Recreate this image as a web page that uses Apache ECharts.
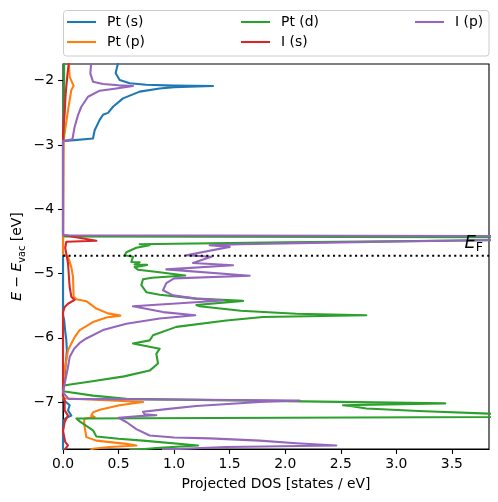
<!DOCTYPE html>
<html><head><meta charset="utf-8">
<script src="https://cdn.jsdelivr.net/npm/echarts@6/dist/echarts.min.js"></script>
<style>html,body{margin:0;padding:0;background:#fff}#c{width:498px;height:502px}</style>
</head><body><div id="c"></div>
<script>
// ---- data: [projected DOS, energy] ----
const seriesNames = ['Pt (s)', 'Pt (p)', 'Pt (d)', 'I (s)', 'I (p)'];
const colors = ['#1f77b4', '#ff7f0e', '#2ca02c', '#d62728', '#9467bd'];

const ptS = [[0.50,-1.70],[0.485,-1.80],[0.474,-1.885],[0.51,-1.99],[0.60,-2.04],[0.75,-2.062],[1.0,-2.076],[1.35,-2.083],[1.0,-2.10],[0.87,-2.12],[0.69,-2.17],[0.54,-2.275],[0.45,-2.405],[0.405,-2.50],[0.36,-2.53],[0.33,-2.61],[0.285,-2.77],[0.27,-2.90],[0.285,-2.913],[0,-2.94],[0,-5.65],[0.01,-5.72],[0.02,-5.9],[0.03,-6.04],[0.035,-6.2],[0.02,-6.5],[0.006,-6.77],[0,-6.85],[0,-6.96],[0.015,-6.98],[0.06,-7.05],[0.045,-7.13],[0.075,-7.21],[0.025,-7.25],[0,-7.3],[0,-7.75]];

const ptP = [[0.054,-1.70],[0.055,-1.80],[0.06,-1.94],[0.096,-2.08],[0.075,-2.145],[0.045,-2.46],[0.006,-2.92],[0,-2.95],[0,-4.70],[0.006,-4.72],[0.045,-4.74],[0.075,-4.90],[0.09,-5.05],[0.096,-5.36],[0.12,-5.40],[0.21,-5.43],[0.30,-5.545],[0.405,-5.62],[0.516,-5.655],[0.39,-5.685],[0.27,-5.755],[0.15,-5.88],[0.105,-5.99],[0.075,-6.09],[0.045,-6.195],[0.015,-6.5],[0,-6.75],[0,-6.94],[0.015,-6.95],[0.72,-7.0],[0.51,-7.05],[0.33,-7.12],[0.27,-7.16],[0.255,-7.21],[0.285,-7.23],[0.195,-7.26],[0.19,-7.30],[0.195,-7.39],[0.21,-7.545],[0.30,-7.60],[0.57,-7.65],[0.66,-7.675],[0.42,-7.70],[0.27,-7.725],[0.25,-7.75]];

const ptD = [[0.01,-1.70],[0.01,-2.5],[0.005,-2.9],[0,-2.94],[0,-4.40],[0.02,-4.425],[8,-4.445],[3.9,-4.48],[2.0,-4.515],[1.0,-4.537],[0.69,-4.545],[0.78,-4.56],[0.66,-4.60],[0.57,-4.67],[0.555,-4.715],[0.63,-4.74],[0.615,-4.82],[0.69,-4.825],[0.645,-4.86],[0.756,-4.865],[0.645,-4.90],[0.675,-4.94],[0.85,-4.975],[1.1,-5.03],[0.8,-5.065],[0.72,-5.09],[0.705,-5.18],[0.75,-5.29],[0.87,-5.33],[1.2,-5.39],[1.62,-5.425],[1.2,-5.49],[1.23,-5.51],[1.6,-5.58],[2.1,-5.625],[2.73,-5.65],[1.8,-5.675],[1.47,-5.73],[1.02,-5.83],[0.81,-5.96],[0.78,-6.04],[0.63,-6.09],[0.87,-6.17],[0.84,-6.25],[0.855,-6.40],[0.78,-6.51],[0.55,-6.60],[0.25,-6.68],[0.05,-6.73],[0,-6.745],[0,-6.83],[0.27,-6.90],[0.57,-6.95],[3.44,-7.02],[2.52,-7.05],[2.6,-7.065],[2.73,-7.10],[3.2,-7.14],[3.83,-7.18],[6,-7.22],[0.12,-7.255],[0.15,-7.30],[0.27,-7.44],[0.30,-7.535],[0.5,-7.57],[0.72,-7.60],[1.215,-7.675],[0.87,-7.71],[0.6,-7.75]];

const iS = [[0.054,-1.70],[0.04,-1.90],[0.024,-2.2],[0.015,-2.5],[0.005,-2.7],[0,-2.8],[0,-4.40],[0.01,-4.43],[0.30,-4.49],[0.03,-4.505],[0.02,-4.6],[0.03,-4.69],[0.045,-4.84],[0.06,-5.21],[0.075,-5.36],[0.105,-5.41],[0.045,-5.47],[0.015,-5.52],[0,-5.6],[0,-6.9],[0.015,-6.97],[0.03,-7.0],[0.015,-7.13],[0.045,-7.21],[0.015,-7.31],[0,-7.45],[0.02,-7.62],[0.045,-7.675],[0.024,-7.72],[0.02,-7.75]];

const iP = [[0.255,-1.70],[0.25,-1.80],[0.246,-1.885],[0.27,-2.015],[0.36,-2.05],[0.5,-2.072],[0.63,-2.083],[0.48,-2.12],[0.33,-2.155],[0.225,-2.25],[0.165,-2.405],[0.135,-2.535],[0.105,-2.715],[0.085,-2.91],[0,-2.94],[0,-4.40],[0.05,-4.405],[8,-4.43],[4,-4.475],[2.5,-4.515],[1.6,-4.545],[1.32,-4.56],[1.5,-4.585],[1.11,-4.715],[1.335,-4.74],[1.17,-4.835],[1.53,-4.87],[0.93,-4.935],[1.68,-5.035],[1.0,-5.075],[0.93,-5.15],[0.90,-5.26],[0.99,-5.34],[1.2,-5.39],[1.44,-5.42],[0.63,-5.51],[0.9,-5.6],[1.19,-5.65],[0.87,-5.70],[0.57,-5.78],[0.36,-5.88],[0.21,-6.01],[0.15,-6.08],[0.1,-6.17],[0.06,-6.30],[0.045,-6.455],[0.015,-6.71],[0,-6.85],[0.05,-6.95],[2.13,-6.975],[1.77,-7.0],[1.2,-7.06],[0.93,-7.11],[0.72,-7.15],[0.735,-7.19],[0.84,-7.205],[0.72,-7.215],[0.5,-7.245],[0.57,-7.31],[0.66,-7.42],[0.78,-7.52],[1.0,-7.55],[1.32,-7.565],[1.77,-7.60],[2.1,-7.64],[2.46,-7.675],[1.47,-7.70],[0.9,-7.74]];

const fermiLevel = -4.724;
const xTicks = [0, 0.5, 1, 1.5, 2, 2.5, 3, 3.5];
const yTicks = [-7, -6, -5, -4, -3, -2];
const xRange = [0, 3.834];
const yRange = [-7.73, -1.74];
// ---------------------------------------

const curves = [ptS, ptP, ptD, iS, iP];
const FF = 'DejaVu Sans';
const FS = 13.9;
const LW = 2.08;
const chart = echarts.init(document.getElementById('c'), null, {renderer: 'canvas'});

const legendCommon = {
  orient: 'vertical', icon: 'rect', itemWidth: 29, itemHeight: 2.1, itemGap: 6,
  selectedMode: false, top: 15, z: 20, padding: 0,
  textStyle: {fontSize: FS, color: '#000', fontFamily: FF, padding: [0, 0, 0, 6]}
};

const series = curves.map((d, i) => ({
  name: seriesNames[i], type: 'line', data: d, symbol: 'none', showSymbol: false,
  clip: true, animation: false,
  lineStyle: {width: LW, color: colors[i], join: 'round', cap: 'round'}, itemStyle: {color: colors[i]}
}));
series.push({
  type: 'line', data: [[xRange[0], fermiLevel], [xRange[1], fermiLevel]],
  symbol: 'none', silent: true, animation: false, z: 3,
  lineStyle: {color: '#000', width: LW, type: [2.08, 3.43]}
});

const option = {
  animation: false,
  textStyle: {fontFamily: FF},
  grid: {left: 63, right: 9, top: 64, bottom: 53, show: true, borderColor: '#000', borderWidth: 1.1, backgroundColor: 'transparent'},
  legend: [
    Object.assign({}, legendCommon, {left: 67, data: [seriesNames[0], seriesNames[1]]}),
    Object.assign({}, legendCommon, {left: 241, data: [seriesNames[2], seriesNames[3]]}),
    Object.assign({}, legendCommon, {left: 415, data: [seriesNames[4]]})
  ],
  xAxis: {
    type: 'value', min: xRange[0], max: xRange[1],
    axisLine: {show: true, onZero: false, lineStyle: {color: '#000', width: 1.1}},
    axisTick: {show: true, length: 4.9, customValues: xTicks, lineStyle: {color: '#000', width: 1.1}},
    axisLabel: {customValues: xTicks, formatter: v => v.toFixed(1), color: '#000', fontSize: FS, fontFamily: FF, margin: 8},
    splitLine: {show: false},
    name: 'Projected DOS [states / eV]', nameLocation: 'middle', nameGap: 28,
    nameTextStyle: {color: '#000', fontSize: FS, fontFamily: FF}
  },
  yAxis: {
    type: 'value', min: yRange[0], max: yRange[1],
    axisLine: {show: true, onZero: false, lineStyle: {color: '#000', width: 1.1}},
    axisTick: {show: true, length: 4.9, customValues: yTicks, lineStyle: {color: '#000', width: 1.1}},
    axisLabel: {customValues: yTicks, formatter: v => (v < 0 ? '\u2212' + (-v) : '' + v), color: '#000', fontSize: FS, fontFamily: FF, margin: 9},
    splitLine: {show: false}
  },
  graphic: [
    {type: 'rect', z: 1, shape: {x: 63.5, y: 10.5, width: 425.5, height: 45.5, r: 3},
     style: {fill: '#ffffff', stroke: '#cccccc', lineWidth: 1}},
    {type: 'text', z: 60, x: 17, y: 256.5, rotation: Math.PI / 2,
     style: {text: '{i|E}{n| \u2212 }{i|E}{s|vac}{n| [eV]}', fill: '#000', align: 'center', verticalAlign: 'middle',
       rich: {
         i: {fontStyle: 'italic', fontSize: FS, fontFamily: FF, lineHeight: 20, fill: '#000'},
         n: {fontSize: FS, fontFamily: FF, lineHeight: 20, fill: '#000'},
         s: {fontSize: 9.7, fontFamily: FF, lineHeight: 8, verticalAlign: 'bottom', fill: '#000'}
       }}},
    {type: 'text', z: 60, x: 483, y: 254,
     style: {text: '{i|E}{s|F}', fill: '#000', align: 'right', verticalAlign: 'bottom',
       rich: {
         i: {fontStyle: 'italic', fontSize: 18, fontFamily: FF, lineHeight: 22, fill: '#000'},
         s: {fontSize: 12.6, fontFamily: FF, lineHeight: 10, verticalAlign: 'bottom', fill: '#000'}
       }}}
  ],
  series: series
};
chart.setOption(option);
</script></body></html>
